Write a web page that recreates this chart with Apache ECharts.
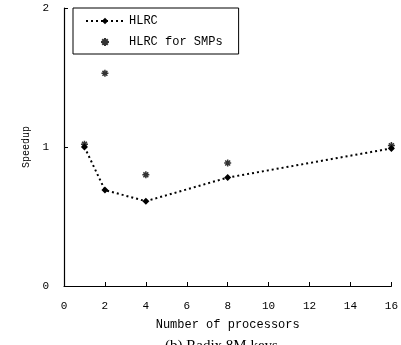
<!DOCTYPE html>
<html>
<head>
<meta charset="utf-8">
<script src="https://cdn.jsdelivr.net/npm/echarts@6/dist/echarts.min.js"></script>
<style>
  html, body { margin: 0; padding: 0; background: #fff; }
  #chart { width: 401px; height: 345px; }
</style>
</head>
<body>
<div id="chart"></div>
<script>
// data
var procs = [1, 2, 4, 8, 16];
var hlrc = [1.0, 0.69, 0.61, 0.78, 0.99];
var hlrcSmp = [1.02, 1.53, 0.80, 0.885, 1.01];
var xTicks = [0, 2, 4, 6, 8, 10, 12, 14, 16];
var yTicks = [0, 1, 2];

var font = 'Liberation Mono';
var chart = echarts.init(document.getElementById('chart'));

chart.setOption({
  animation: false,
  textStyle: { fontFamily: font, color: '#000' },
  title: {
    text: '(b) Radix 8M keys',
    left: 160, top: 334,
    textStyle: { fontFamily: 'Liberation Serif', fontSize: 15, fontWeight: 'normal', color: '#000' }
  },
  legend: {
    left: 73, top: 8,
    orient: 'vertical',
    itemGap: 9,
    padding: [7, 16, 6, 12],
    borderColor: '#000', borderWidth: 1,
    itemWidth: 38, itemHeight: 8,
    textStyle: { fontFamily: font, fontSize: 12, color: '#000' },
    data: ['HLRC', 'HLRC for SMPs']
  },
  grid: { left: 64, right: 7, top: 8, bottom: 59 },
  xAxis: {
    type: 'value', min: 0, max: 16, interval: 2,
    name: 'Number of processors', nameLocation: 'middle', nameGap: 33,
    nameTextStyle: { fontFamily: font, fontSize: 12, color: '#000' },
    axisLine: { lineStyle: { color: '#000', width: 1.2 } },
    axisTick: { inside: true, length: 4, lineStyle: { color: '#000' } },
    axisLabel: { fontFamily: font, fontSize: 11, color: '#000', margin: 15,
      formatter: function (v) { return xTicks.indexOf(v) >= 0 ? String(v) : ''; } },
    splitLine: { show: false }
  },
  yAxis: {
    type: 'value', min: 0, max: 2, interval: 1,
    name: 'Speedup', nameLocation: 'middle', nameGap: 21,
    nameTextStyle: { fontFamily: font, fontSize: 10, color: '#000' },
    axisLine: { show: true, lineStyle: { color: '#000', width: 1.2 } },
    axisTick: { show: true, inside: true, length: 4, lineStyle: { color: '#000' } },
    axisLabel: { fontFamily: font, fontSize: 11, color: '#000', margin: 15,
      formatter: function (v) { return yTicks.indexOf(v) >= 0 ? String(v) : ''; } },
    splitLine: { show: false }
  },
  series: [
    {
      name: 'HLRC', type: 'line',
      data: procs.map(function (p, i) { return [p, hlrc[i]]; }),
      symbol: 'diamond', symbolSize: 7,
      itemStyle: { color: '#000' },
      lineStyle: { color: '#000', width: 2, type: [2, 3] }
    },
    {
      name: 'HLRC for SMPs', type: 'scatter',
      data: procs.map(function (p, i) { return [p, hlrcSmp[i]]; }),
      symbol: 'path://M0,-5L0,5M-5,0L5,0M-3.5,-3.5L3.5,3.5M-3.5,3.5L3.5,-3.5',
      symbolSize: 7,
      itemStyle: { color: '#000', borderColor: '#000', borderWidth: 1.5 }
    }
  ]
});
</script>
</body>
</html>
